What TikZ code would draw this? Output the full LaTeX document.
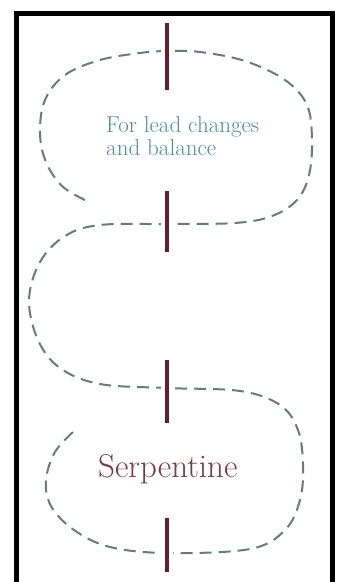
\documentclass[tikz,border=0pt]{standalone}
\definecolor{dashc}{RGB}{105,122,122}
\definecolor{barc}{RGB}{100,32,42}
\definecolor{tealtxt}{RGB}{80,142,150}
\definecolor{serptxt}{RGB}{115,60,70}
\tikzset{
  route/.style={draw=dashc, line width=2pt, dash pattern=on 12pt off 7pt, line cap=butt},
  barline/.style={draw=barc, line width=4pt},
  bargap/.style={draw=white, line width=12pt},
  framebox/.style={draw=black, line width=5pt},
}
\begin{document}
\begin{tikzpicture}[x=1pt,y=-1pt]
\useasboundingbox (0,0) rectangle (338,582);
\fill[white] (0,0) rectangle (338,582);
% serpentine route
\draw[route] plot[smooth, tension=0.6] coordinates {
 (85,200) (62,186) (46,162) (40,133) (45,100) (65,75) (100,60) (140,53) (167,51)
 (200,52) (245,61) (285,80) (307,105) (312,140) (309,175) (297,200) (272,216)
 (235,223) (167,224) (100,225) (65,236) (40,262) (29,300) (38,340) (60,368)
 (100,384) (167,388) (240,391) (280,405) (298,430) (303,465) (300,500)
 (285,530) (250,549) (167,553) (110,547) (74,530) (51,506) (46,480) (55,452) (73,432)};
% bars with small gaps
\coordinate (b1t) at (167,23); \coordinate (b1b) at (167,90);
\coordinate (b2t) at (167,191); \coordinate (b2b) at (167,252);
\coordinate (b3t) at (167,360); \coordinate (b3b) at (167,423);
\coordinate (b4t) at (167,518); \coordinate (b4b) at (167,572);
\foreach \t/\b in {b1t/b1b,b2t/b2b,b3t/b3b,b4t/b4b}{
  \draw[bargap] ([yshift=4pt]\t) -- ([yshift=-4pt]\b);
  \draw[barline] (\t) -- (\b);
}
\begin{scope}
\clip (0,0) rectangle (338,582);
\draw[framebox] (16,13.5) -- (332,13.5) -- (332,600) -- (16,600) -- cycle;
\end{scope}
\node[anchor=base west, inner sep=0pt, text=tealtxt, font=\fontsize{23}{23}\selectfont, align=left] (lead) at (106,155) {For lead changes\\and balance};
\node[anchor=base west, inner sep=0pt, text=serptxt, font=\fontsize{33}{36}\selectfont] (serp) at (98,477) {Serpentine};
\end{tikzpicture}
\end{document}
